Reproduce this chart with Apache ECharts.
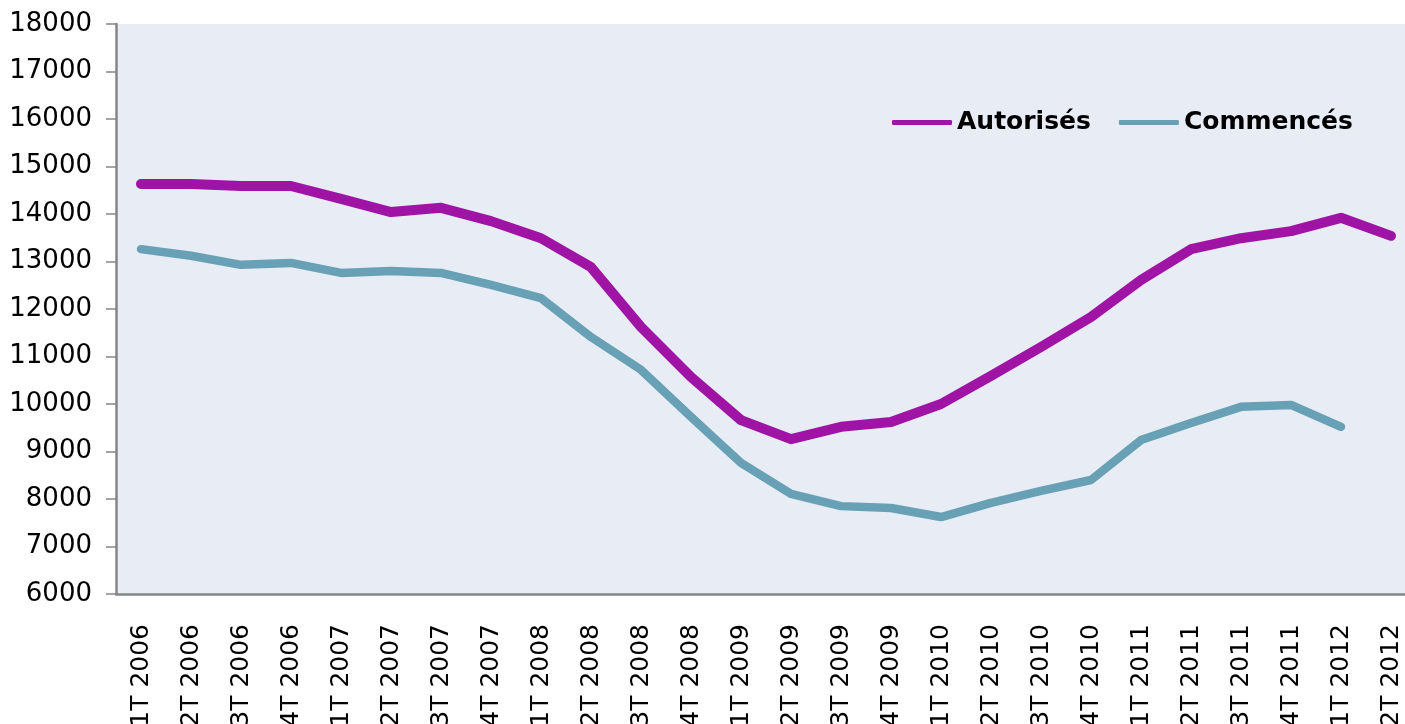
<!DOCTYPE html>
<html>
<head>
<meta charset="utf-8">
<script src="https://cdn.jsdelivr.net/npm/echarts@6/dist/echarts.min.js"></script>
<style>
  html, body { margin: 0; padding: 0; background: #fff; }
  #chart { width: 1405px; height: 724px; }
</style>
</head>
<body>
<div id="chart"></div>
<script>
// trimestres
const quarters = [
  '1T 2006', '2T 2006', '3T 2006', '4T 2006',
  '1T 2007', '2T 2007', '3T 2007', '4T 2007',
  '1T 2008', '2T 2008', '3T 2008', '4T 2008',
  '1T 2009', '2T 2009', '3T 2009', '4T 2009',
  '1T 2010', '2T 2010', '3T 2010', '4T 2010',
  '1T 2011', '2T 2011', '3T 2011', '4T 2011',
  '1T 2012', '2T 2012'
]
const autorises = [
  14630, 14630, 14590, 14590,
  14320, 14040, 14130, 13850,
  13490, 12880, 11620, 10570,
  9660, 9260, 9520, 9620,
  10000, 10590, 11200, 11830,
  12610, 13260, 13490, 13640,
  13920, 13540
]
const commences = [
  13260, 13120, 12930, 12970,
  12760, 12800, 12760, 12510,
  12230, 11410, 10720, 9730,
  8760, 8110, 7850, 7810,
  7620, 7920, 8170, 8400,
  9240, 9600, 9940, 9980,
  9520, null
]

const chart = echarts.init(document.getElementById('chart'))
const axisGray = '#868686'

chart.setOption({
  animation: false,
  textStyle: { fontFamily: 'DejaVu Sans' },
  grid: {
    left: 116, top: 24, width: 1300, height: 570,
    outerBoundsMode: 'none', containLabel: false,
    show: true, backgroundColor: '#e8ecf4', borderWidth: 0
  },
  legend: {
    left: 887, top: 105,
    itemWidth: 60, itemHeight: 5, itemGap: 28,
    icon: 'roundRect',
    textStyle: { fontFamily: 'DejaVu Sans', fontWeight: 'bold', fontSize: 25, color: '#000' },
    data: ['Autorisés', 'Commencés']
  },
  xAxis: {
    type: 'category',
    data: quarters,
    boundaryGap: true,
    axisLine: { lineStyle: { color: axisGray, width: 2.5 } },
    axisTick: { length: 10, lineStyle: { color: axisGray, width: 1.5 } },
    axisLabel: { rotate: 90, interval: 0, margin: 30, fontSize: 25, color: '#000' },
    splitLine: { show: false }
  },
  yAxis: {
    type: 'value',
    min: 6000, max: 18000, interval: 1000,
    axisLine: { show: true, lineStyle: { color: axisGray, width: 2.5 } },
    axisTick: { show: true, length: 10, lineStyle: { color: axisGray, width: 1.5 } },
    axisLabel: { margin: 24, fontSize: 26, color: '#000', formatter: v => String(v) },
    splitLine: { show: false }
  },
  series: [
    {
      name: 'Autorisés', type: 'line', data: autorises,
      showSymbol: false, z: 3,
      itemStyle: { color: '#9f13a5' },
      lineStyle: { color: '#9f13a5', width: 10, cap: 'round', join: 'round' }
    },
    {
      name: 'Commencés', type: 'line', data: commences,
      showSymbol: false, z: 2,
      itemStyle: { color: '#68a0b5' },
      lineStyle: { color: '#68a0b5', width: 8.5, cap: 'round', join: 'round' }
    }
  ]
})
</script>
</body>
</html>
